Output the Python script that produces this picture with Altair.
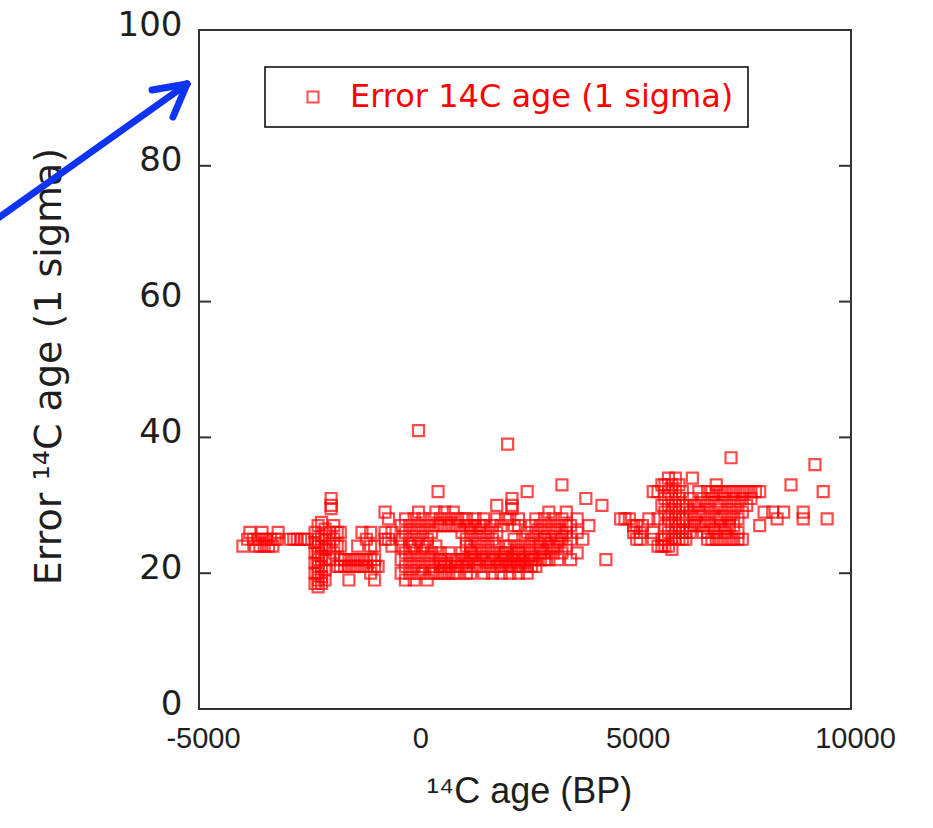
import altair as alt
import pandas as pd

SERIES = "Error 14C age (1 sigma)"

# axis ticks / labels
x_tick_values = [-5000, 0, 5000, 10000]
y_tick_values = [0, 20, 40, 60, 80, 100]
inner_ticks = [20, 40, 60, 80]

# data: each age column with the errors plotted at it
ages_west = [-3990, -3880, -3830, -3750, -3700, -3650, -3600, -3550, -3550, -3500, -3450, -3400,
             -3350, -3300, -3250, -3200, -3180, -2900, -2820, -2740, -2660, -2580, -2510]
errs_west = [24, 25, 26, 25, 24, 25, 24, 25, 26, 24, 25, 24,
             25, 24, 25, 25, 26, 25, 25, 25, 25, 25, 25]

ages_col = [-2330, -2260, -2180, -2100, -1960, -1990, -1900, -1820,
            -1750, -1650, -1550, -1450, -1350, -1250, -1150, -1050, -960, -880,
            -720, -640, -560]
errs_col = [[18.5, 20, 21.5, 23, 24.5, 26],
            [18, 19, 20, 21, 22, 23, 24, 25, 27],
            [18.5, 19.5, 21, 22.5, 24, 25.5, 27.5],
            [19, 20.5, 22, 23.5, 25, 26.5],
            [31, 30, 29.5],
            [22, 24, 26],
            [23, 25, 27],
            [21, 24, 26],
            [21, 22, 24, 26],
            [21, 22],
            [19, 21, 22],
            [21, 22],
            [21, 22, 24],
            [21, 22, 26],
            [21, 22, 25],
            [20, 22, 24, 26],
            [19, 21, 22, 24],
            [21],
            [29, 26, 25],
            [28, 25],
            [26, 24]]

ages_mid = [-350, -250, -150, -50, 50, 150, 250, 350, 450, 500, 550, 650, 750, 850, 950,
            1050, 1150, 1250, 1350, 1450, 1550, 1650, 1750, 1850, 1950, 2050, 2100, 2150,
            2200, 2250, 2350, 2450, 2550, 2650, 2750, 2850, 2950, 3050, 3150, 3250, 3350,
            3450, 3550, 3700, 3830, 3900, 3970, 4270, 4360]
errs_mid = [[20, 22, 24, 25, 27],
            [19, 21, 23, 26, 28],
            [20, 22, 24, 25, 27],
            [19, 21, 23, 24, 26, 28],
            [20, 22, 25, 27, 29, 41],
            [20, 21, 23, 24, 26, 28],
            [19, 22, 24, 25, 27],
            [20, 21, 23, 26, 28],
            [20, 22, 24, 27, 29],
            [32],
            [20, 21, 22, 23, 27, 28],
            [20, 21, 22, 27, 29],
            [20, 21, 23, 27, 28],
            [20, 22, 27, 29],
            [20, 21, 22, 27, 28],
            [21, 22, 23, 26, 28],
            [20, 21, 22, 24, 25, 27, 28],
            [20, 22, 23, 24, 26, 27],
            [21, 22, 23, 25, 27, 28],
            [21, 22, 24, 26, 27],
            [20, 22, 23, 25, 27, 28],
            [21, 22, 24, 26],
            [20, 22, 23, 25, 27],
            [21, 22, 24, 26, 28, 30],
            [20, 21, 22, 23, 27],
            [21, 22, 23, 24, 28],
            [39],
            [20, 21, 22, 24, 28],
            [31, 30, 29.5],
            [21, 22, 23, 25, 27],
            [20, 21, 22, 23, 24, 27, 28],
            [21, 22, 23, 25],
            [20, 21, 22, 24, 26, 32],
            [21, 22, 23, 25, 27],
            [21, 22, 24, 26, 28],
            [22, 23, 24, 25, 27],
            [22, 23, 25, 26, 28],
            [22, 24, 25, 27, 29],
            [23, 24, 26, 28],
            [22, 24, 25, 27],
            [23, 25, 26, 28, 33],
            [24, 26, 27, 29],
            [22, 25, 27],
            [26, 28, 23],
            [25],
            [31],
            [27],
            [30],
            [22]]

ages_east = [4700, 4800, 4900, 5000, 5070, 5150, 5200, 5350,
             5450, 5560, 5650, 5720, 5800, 5880, 5960, 6040, 6120, 6200, 6300, 6350, 6400, 6500,
             6600, 6700, 6800, 6900, 7000, 7100, 7200, 7240, 7300, 7400, 7500, 7600, 7700, 7800,
             7900, 8000, 8200, 8300, 8450, 8620, 8900, 9170, 9360, 9450]
errs_east = [[28], [28], [28], [27, 26], [27, 25], [26, 25], [27], [28],
             [32, 25, 26],
             [32, 24, 28],
             [33, 30, 25, 24],
             [33, 31, 29, 27, 25, 24],
             [34, 32, 30, 28, 26, 24],
             [33, 31, 29, 27, 25, 23.5],
             [34, 32, 30, 28, 26, 25],
             [33, 31, 29, 27, 25],
             [32, 30, 28, 26, 25],
             [30, 28, 26, 25],
             [31, 29, 27, 26],
             [34],
             [30, 28, 27],
             [32, 30, 29, 27],
             [31, 29, 27, 26],
             [32, 30, 28, 26, 25],
             [32, 31, 29, 27, 25],
             [33, 32, 30, 28, 26, 25],
             [32, 30, 28, 27, 25],
             [32, 31, 29, 27, 26, 25],
             [32, 30, 28, 27, 25],
             [37],
             [32, 31, 29, 27, 25],
             [32, 30, 28, 26, 25],
             [32, 31, 29, 25],
             [32, 30],
             [32, 31],
             [32],
             [32, 27],
             [29],
             [29],
             [28],
             [29],
             [33],
             [29, 28],
             [36],
             [32],
             [28]]

rows = []
for a, e in zip(ages_west, errs_west):
    rows.append({"age": a, "err": e, "series": SERIES})
for ages, errs in [(ages_col, errs_col), (ages_mid, errs_mid), (ages_east, errs_east)]:
    for a, es in zip(ages, errs):
        for e in es:
            rows.append({"age": a, "err": e, "series": SERIES})
df = pd.DataFrame(rows)

W, H = 652, 679
RED = "#ff0000"
FRAME = "#333333"
TXT = "#1e1e1e"

x_scale = alt.Scale(domain=[-5000, 10000], nice=False, zero=False)
y_scale = alt.Scale(domain=[0, 100], nice=False)

x_axis = alt.Axis(values=x_tick_values, title="¹⁴C age (BP)", ticks=False, domain=False,
                  grid=False, labelFont="Liberation Sans", labelFontSize=29, labelColor=TXT,
                  labelExpr="datum.value < 0 ? '-' + abs(datum.value) : '' + datum.value",
                  labelPadding=15, labelOffset=4, labelFlush=False, labelOverlap=False,
                  titleFont="Liberation Sans", titleFontSize=36, titleFontWeight="normal",
                  titleColor=TXT, titleX=330, titleY=82, titleBaseline="middle")
y_axis = alt.Axis(values=y_tick_values, title="Error ¹⁴C age (1 sigma)", ticks=False, domain=False,
                  grid=False, labelFont="DejaVu Sans", labelFontSize=34, labelColor=TXT,
                  labelPadding=17, labelOffset=-5, labelFlush=False, labelOverlap=False,
                  titleFont="DejaVu Sans", titleFontSize=38, titleFontWeight="normal",
                  titleColor=TXT, titleAngle=270, titleAlign="center", titleBaseline="middle",
                  titleX=-150, titleY=336)

points = alt.Chart(df).mark_point(shape="square", filled=False, size=121, strokeWidth=2.2).encode(
    x=alt.X("age:Q", scale=x_scale, axis=x_axis),
    y=alt.Y("err:Q", scale=y_scale, axis=y_axis),
    color=alt.Color("series:N", scale=alt.Scale(range=[RED]),
                    legend=alt.Legend(title=None, orient="none", legendX=66, legendY=37,
                                      strokeColor="black", fillColor="white", padding=14,
                                      symbolType="square", symbolSize=121, symbolStrokeWidth=2,
                                      symbolOffset=18, labelOffset=21, labelLimit=0,
                                      labelFont="DejaVu Sans", labelFontSize=32, labelColor=RED)),
)

tick_df = pd.DataFrame({"err": inner_ticks})
left_ticks = alt.Chart(tick_df).mark_rule(color=FRAME, strokeWidth=2).encode(
    y=alt.Y("err:Q", scale=y_scale, axis=y_axis), x=alt.value(0), x2=alt.value(12))
right_ticks = alt.Chart(tick_df).mark_rule(color=FRAME, strokeWidth=2).encode(
    y=alt.Y("err:Q", scale=y_scale, axis=y_axis), x=alt.value(W - 12), x2=alt.value(W))

one = pd.DataFrame({"k": [0]})
BLUE = "#0f33f2"
arrow_shaft = alt.Chart(one).mark_rule(color=BLUE, strokeWidth=7, strokeCap="round").encode(
    x=alt.value(-212), y=alt.value(196), x2=alt.value(-12), y2=alt.value(54))
arrow_w1 = alt.Chart(one).mark_rule(color=BLUE, strokeWidth=7, strokeCap="round").encode(
    x=alt.value(-47), y=alt.value(60), x2=alt.value(-12), y2=alt.value(54))
arrow_w2 = alt.Chart(one).mark_rule(color=BLUE, strokeWidth=7, strokeCap="round").encode(
    x=alt.value(-26), y=alt.value(87), x2=alt.value(-12), y2=alt.value(54))

chart = alt.layer(left_ticks, right_ticks, points, arrow_shaft, arrow_w1, arrow_w2).properties(
    width=W, height=H,
    padding={"left": 199, "top": 30, "right": 82, "bottom": 119},
    autosize=alt.AutoSizeParams(type="none"),
    background="white",
).configure_view(stroke=FRAME, strokeWidth=2).configure_legend(strokeWidth=1.5)

chart.save("out.html", embed_options={"renderer": "svg", "actions": False})
